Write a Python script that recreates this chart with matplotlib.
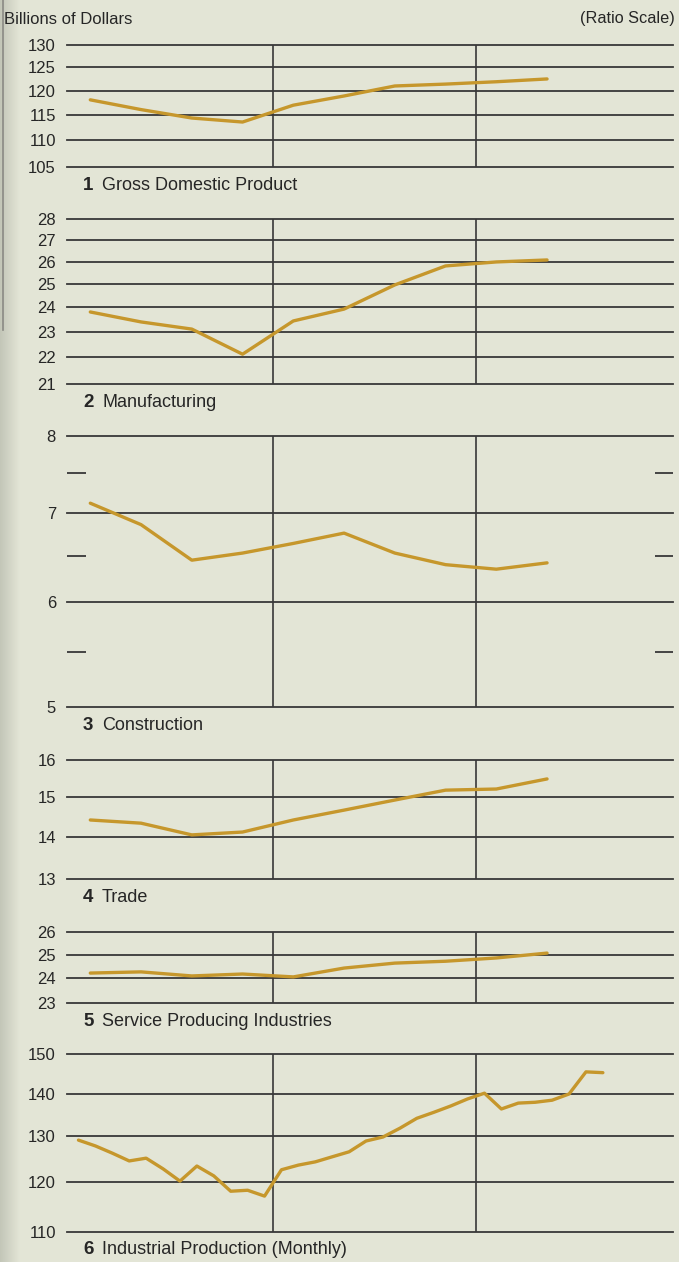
import numpy as np
import matplotlib.pyplot as plt

plt.rcParams['font.family'] = ['Liberation Sans', 'DejaVu Sans']

# quarterly series (10 quarters, Q1 of first year .. Q2 of third year), billions of dollars
gdp = [118.1, 116.1, 114.4, 113.6, 117.0, 118.9, 121.0, 121.4, 121.9, 122.5]
manufacturing = [23.81, 23.40, 23.11, 22.12, 23.44, 23.93, 24.96, 25.80, 25.98, 26.07]
construction = [7.12, 6.86, 6.45, 6.53, 6.64, 6.76, 6.53, 6.40, 6.35, 6.42]
trade = [14.41, 14.33, 14.04, 14.11, 14.41, 14.66, 14.92, 15.18, 15.21, 15.48]
services = [24.22, 24.27, 24.10, 24.18, 24.06, 24.43, 24.64, 24.72, 24.86, 25.07]
# monthly series (32 months)
industrial = [129.1, 127.8, 126.2, 124.5, 125.1, 122.8, 120.2, 123.4, 121.3, 118.1,
              118.3, 117.1, 122.6, 123.6, 124.3, 125.4, 126.5, 128.9, 129.8, 131.8,
              134.1, 135.5, 137.0, 138.7, 140.1, 136.3, 137.7, 137.9, 138.4, 139.9,
              145.4, 145.2]

titles = ["Gross Domestic Product", "Manufacturing", "Construction", "Trade",
          "Service Producing Industries", "Industrial Production (Monthly)"]
yticks = [[105, 110, 115, 120, 125, 130],
          [21, 22, 23, 24, 25, 26, 27, 28],
          [5, 6, 7, 8],
          [13, 14, 15, 16],
          [23, 24, 25, 26],
          [110, 120, 130, 140, 150]]
minor_marks = [[], [], [5.5, 6.5, 7.5], [], [], []]

W, H = 679, 1262
bg = '#e3e5d6'
grid_c = '#383838'
line_c = '#c6972c'
text_c = '#262626'

# panel top / bottom in pixels
panels = [(45, 167), (219, 384), (436, 707), (760, 879), (932, 1003), (1054, 1232)]
series = [gdp, manufacturing, construction, trade, services, industrial]

fig = plt.figure(figsize=(W / 100, H / 100), dpi=100)
fig.patch.set_facecolor(bg)

# page gutter on the left
gut = fig.add_axes([0, 0, 20 / W, 1])
grad = np.linspace(0, 1, 50).reshape(1, -1)
gut.imshow(grad, aspect='auto', cmap=plt.matplotlib.colors.LinearSegmentedColormap.from_list(
    'g', ['#c3c6b8', bg]), extent=[0, 1, 0, 1])
gut.axis('off')
fig.add_artist(plt.Line2D([3 / W, 3 / W], [1, 1 - 330 / H], color='#8a8a84', lw=1.2))

xq = (np.arange(10) + 0.4) / 4
xm = (np.arange(32) + 0.5) / 12
xs = [xq] * 5 + [xm]

for i, (top, bot) in enumerate(panels):
    ax = fig.add_axes([67 / W, 1 - bot / H, 606 / W, (bot - top) / H])
    ax.set_facecolor('none')
    ax.set_yscale('log')
    ticks = yticks[i]
    ax.set_ylim(ticks[0], ticks[-1])
    ax.set_xlim(-3 / 203, 603 / 203)
    for t in ticks:
        ax.axhline(t, color=grid_c, lw=1.3, clip_on=False, zorder=1)
    for m in minor_marks[i]:
        ax.hlines(m, 0, 19 / 606, transform=ax.get_yaxis_transform(), color=grid_c, lw=1.3)
        ax.hlines(m, 1 - 18 / 606, 1, transform=ax.get_yaxis_transform(), color=grid_c, lw=1.3)
    for v in (1, 2):
        ax.axvline(v, color=grid_c, lw=1.2, zorder=1)
    ax.plot(xs[i], series[i], color=line_c, lw=2.4, solid_capstyle='round', zorder=3)
    ax.set_yticks(ticks)
    ax.set_yticklabels([str(t) for t in ticks])
    ax.yaxis.set_minor_locator(plt.NullLocator())
    ax.tick_params(axis='y', length=0, pad=8, labelsize=12, labelcolor=text_c)
    ax.set_xticks([])
    for s in ax.spines.values():
        s.set_visible(False)

    ty = 1 - (bot + 18) / H
    fig.text(83 / W, ty, str(i + 1), fontsize=13.5, fontweight='bold', color=text_c, va='center')
    fig.text(102 / W, ty, titles[i], fontsize=13, color=text_c, va='center')

fig.text(4 / W, 1 - 19 / H, 'Billions of Dollars', fontsize=12, color=text_c, va='center')
fig.text(675 / W, 1 - 19 / H, '(Ratio Scale)', fontsize=11.7, color=text_c, va='center', ha='right')

fig.savefig('out.png', dpi=100, facecolor=bg)
